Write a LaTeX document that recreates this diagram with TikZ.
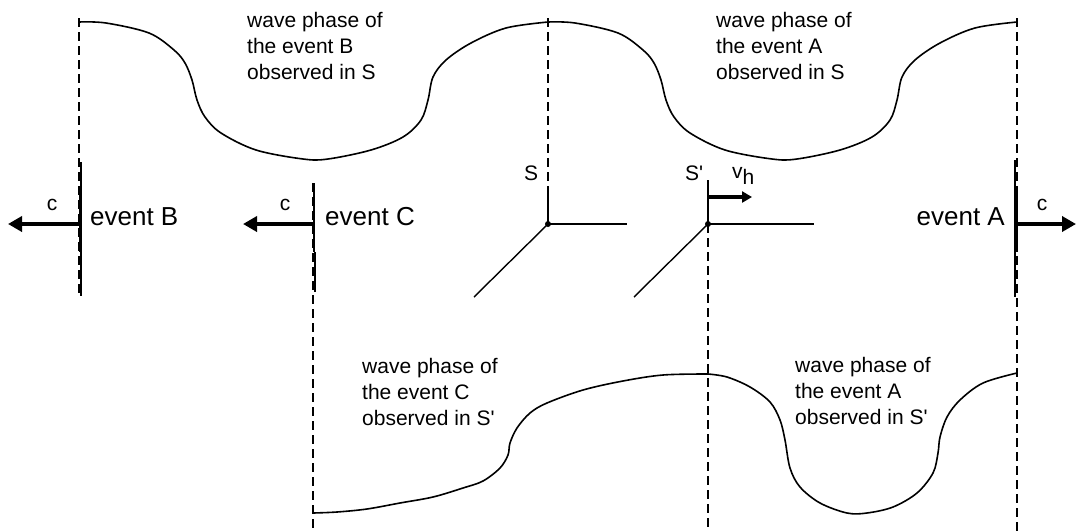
\documentclass[tikz,border=0pt]{standalone}
\usepackage{fontspec}
\setmainfont{Liberation Sans}[Ligatures=TeXOff]
\usetikzlibrary{arrows.meta}
\begin{document}
\begin{tikzpicture}[x=1pt,y=-1pt,
  wave/.style={line width=1.6pt, line join=round, line cap=round},
  guide/.style={line width=1.3pt, dash pattern=on 9pt off 5pt},
  axis/.style={line width=1.4pt},
  front/.style={line width=2.6pt},
  light/.style={line width=1.1pt},
  cray/.style={line width=4pt, -{Triangle[length=14pt,width=15pt]}},
  vray/.style={line width=3.2pt, -{Triangle[length=10pt,width=11pt]}},
  evlabel/.style={font=\fontsize{26}{30}\selectfont, inner sep=0pt},
  small/.style={font=\fontsize{21}{25}\selectfont, inner sep=0pt},
  phase/.style={font=\fontsize{21}{26}\selectfont, align=left, inner sep=0pt, anchor=north west},
  dot/.style={circle, fill=black, inner sep=0pt, minimum size=6pt},
]
\useasboundingbox (0,0) rectangle (1076,531);

% ---------- coordinates ----------
\coordinate (Btop) at (79,18);
\coordinate (Bbot) at (79,297);
\coordinate (Bf1) at (81,162);
\coordinate (Bf2) at (81,296);
\coordinate (Bh1) at (80,195);
\coordinate (Bh2) at (80,252);
\coordinate (Bo) at (80,224);
\coordinate (Ba) at (8,224);

\coordinate (Ctop) at (313,183);
\coordinate (Cbot) at (313,531);
\coordinate (Cf1) at (315,252);
\coordinate (Cf2) at (315,292);
\coordinate (Ch1) at (314,183);
\coordinate (Ch2) at (314,252);
\coordinate (Co) at (314,224);
\coordinate (Ca) at (243,224);

\coordinate (Stop) at (548,18);
\coordinate (Smid) at (548,188);
\coordinate (Sx) at (627,224);
\coordinate (Sz) at (474,297);

\coordinate (Pup) at (708,180);
\coordinate (Pbot) at (708,531);
\coordinate (Px) at (814,224);
\coordinate (Pz) at (634,297);
\coordinate (Pv1) at (708,197);
\coordinate (Pv2) at (752,197);

\coordinate (Atop) at (1017,18);
\coordinate (Abot) at (1017,531);
\coordinate (Af1) at (1015,160);
\coordinate (Af2) at (1015,297);
\coordinate (Ah1) at (1017,192);
\coordinate (Ah2) at (1017,252);
\coordinate (Ao) at (1017,224);
\coordinate (Aa) at (1076,224);

\node[dot] (S) at (548,224) {};
\node[dot] (P) at (708,224) {};

% ---------- guide lines ----------
\draw[guide] (Btop) -- (Bbot);
\draw[guide] (Ctop) -- (Cbot);
\draw[guide] (Stop) -- (Smid);
\draw[guide] (P.center) -- (Pbot);
\draw[guide] (Atop) -- (Abot);

% ---------- wave fronts and rays ----------
\draw[light] (Bf1) -- (Bf2);
\draw[front] (Bh1) -- (Bh2);
\draw[cray] (Bo) -- (Ba);

\draw[light] (Cf1) -- (Cf2);
\draw[front] (Ch1) -- (Ch2);
\draw[cray] (Co) -- (Ca);

\draw[light] (Af1) -- (Af2);
\draw[front] (Ah1) -- (Ah2);
\draw[cray] (Ao) -- (Aa);

% ---------- frames ----------
\draw[axis] (Smid) -- (S.center) -- (Sx);
\draw[axis] (S.center) -- (Sz);
\draw[axis] (Pup) -- (P.center) -- (Px);
\draw[axis] (P.center) -- (Pz);
\draw[vray] (Pv1) -- (Pv2);

% ---------- wave phases ----------
\draw[wave] plot[smooth, tension=0.55] coordinates {(79,22) (106,23) (149,33) (174,50) (185,63) (192,80) (197,100) (205,117) (221,133) (256,150) (303,159) (328,159) (371,150) (403,137) (421,120) (428,100) (433,77) (446,60) (471,43) (506,28) (548,22)};
\draw[wave] plot[smooth, tension=0.55] coordinates {(548,22) (575,23) (618,33) (643,50) (654,63) (661,80) (666,100) (674,117) (690,133) (725,150) (772,159) (797,159) (840,150) (872,137) (890,120) (897,100) (902,77) (915,60) (940,43) (975,28) (1017,22)};
\draw[wave] plot[smooth, tension=0.55] coordinates {(313,513) (337,512) (367,509) (400,503) (433,497) (463,488) (483,481) (500,468) (508,455) (510,443) (517,428) (530,413) (547,403) (583,390) (623,381) (663,375) (708,374)};
\draw[wave] plot[smooth, tension=0.55] coordinates {(708,374) (727,377) (750,387) (770,402) (780,420) (785,440) (790,468) (800,487) (820,503) (847,513) (867,513) (893,507) (917,493) (933,473) (938,453) (940,437) (947,417) (960,400) (983,383) (1017,373)};

% ---------- labels ----------
\node[small] (cB) at (52,205) {c};
\node[small] (cC) at (285,205) {c};
\node[small] (cA) at (1042,205) {c};
\node[evlabel, anchor=west] (eB) at (90,217) {event B};
\node[evlabel, anchor=west] (eC) at (325,217) {event C};
\node[evlabel, anchor=east] (eA) at (1005,217) {event A};
\node[small] (lS) at (531,173) {S};
\node[small] (lP) at (694,173) {S'};
\node[small, anchor=base west] (lv) at (732,178) {v\raisebox{-6pt}{h}};

\node[phase] (tB) at (247,12) {wave phase of\\the event B\\observed in S};
\node[phase] (tA) at (716,12) {wave phase of\\the event A\\observed in S};
\node[phase] (bC) at (362,358) {wave phase of\\the event C\\observed in S'};
\node[phase] (bA) at (795,357) {wave phase of\\the event A\\observed in S'};
\end{tikzpicture}
\end{document}
